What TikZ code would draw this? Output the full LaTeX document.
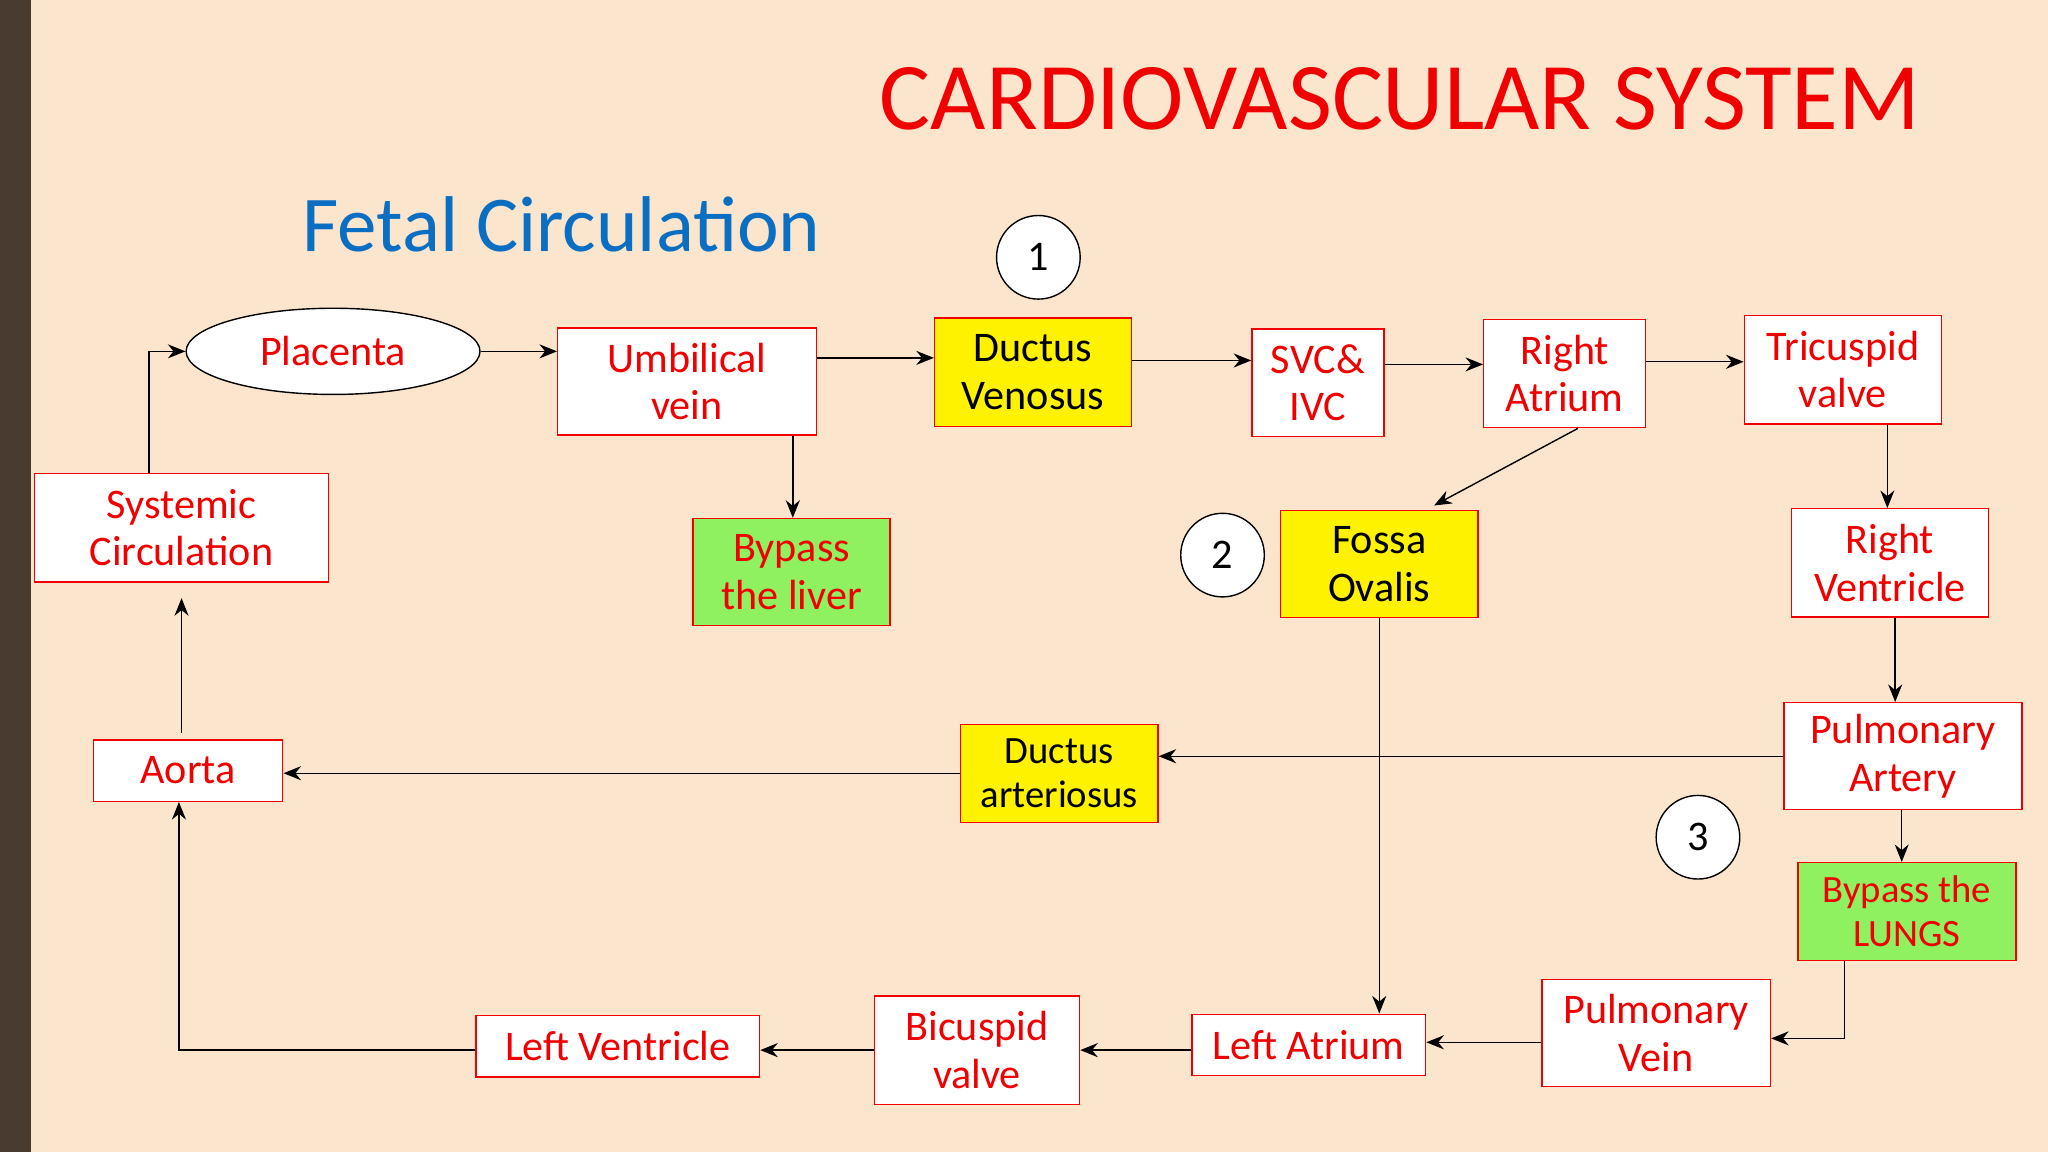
\documentclass[tikz,border=0pt]{standalone}
\usepackage{fontspec}
\setmainfont{Carlito}
\usepackage{xcolor}
\usetikzlibrary{positioning,shapes,arrows.meta}
\definecolor{bgpeach}{HTML}{FCE5CD}
\definecolor{strip}{HTML}{4A3B30}
\definecolor{boxred}{HTML}{F00000}
\definecolor{titleblue}{HTML}{0A6FC2}
\definecolor{lungs}{HTML}{8FF060}
\newcommand{\px}{0.01306cm}

\begin{document}
\begin{tikzpicture}[x=0.01306cm,y=-0.01306cm,
		box/.style = {rectangle, draw=boxred, fill=white, text=boxred, align=center, inner sep=0pt, font=\fontsize{12}{13.5}\selectfont},
		yel/.style = {box, fill=yellow, text=black},
		grn/.style = {box, fill=lungs},
		num/.style = {circle, draw, fill=white, minimum size=64*\px, inner sep=0pt, font=\fontsize{12}{13}\selectfont},
		flow/.style = {-{Stealth[length=5pt,width=4pt]}, draw=black}]
	\fill[bgpeach] (0,0) rectangle (1568,882);
	\fill[strip] (0,0) rectangle (24,882);
	\useasboundingbox (0,0) rectangle (1568,882);
	
	\node[text=boxred, font=\fontsize{27.2}{29}\selectfont] (title) at (1072,76) {CARDIOVASCULAR SYSTEM};
	\node[text=titleblue, font=\fontsize{22.5}{24}\selectfont] (sub) at (430,172) {Fetal Circulation};
	
	\node[ellipse, draw, fill=white, text=boxred, minimum width=225*\px, minimum height=66*\px, inner sep=0pt, font=\fontsize{12}{13}\selectfont] (plac) at (255,269) {Placenta};
	\node[box, minimum width=198*\px, minimum height=82*\px] (umb) at (526,292) {Umbilical\\vein};
	\node[yel, minimum width=151*\px, minimum height=83*\px] (dv) at (791,285) {Ductus\\Venosus};
	\node[box, minimum width=101*\px, minimum height=82*\px] (svc) at (1009,293) {SVC\&\\IVC};
	\node[box, minimum width=124*\px, minimum height=83*\px] (ra) at (1198,286) {Right\\Atrium};
	\node[box, minimum width=151*\px, minimum height=83*\px] (tri) at (1411,283) {Tricuspid\\valve};
	\node[box, minimum width=151*\px, minimum height=83*\px] (rv) at (1447,431) {Right\\Ventricle};
	\node[box, minimum width=182*\px, minimum height=82*\px] (pa) at (1457,579) {Pulmonary\\Artery};
	\node[grn, minimum width=167*\px, minimum height=75*\px, font=\fontsize{11}{12.5}\selectfont] (bpl) at (1460,698) {Bypass the\\LUNGS};
	\node[box, minimum width=175*\px, minimum height=82*\px] (pv) at (1268,791) {Pulmonary\\Vein};
	\node[box, minimum width=179*\px, minimum height=47*\px] (la) at (1002,800) {Left Atrium};
	\node[box, minimum width=157*\px, minimum height=83*\px] (bic) at (748,804) {Bicuspid\\valve};
	\node[box, minimum width=217*\px, minimum height=47*\px] (lv) at (473,801) {Left Ventricle};
	\node[box, minimum width=145*\px, minimum height=47*\px] (aorta) at (144,590) {Aorta};
	\node[box, minimum width=225*\px, minimum height=83*\px] (sys) at (139,404) {Systemic\\Circulation};
	\node[grn, minimum width=151*\px, minimum height=82*\px] (bliv) at (606,438) {Bypass\\the liver};
	\node[yel, minimum width=151*\px, minimum height=82*\px] (fo) at (1056,432) {Fossa\\Ovalis};
	\node[yel, minimum width=151*\px, minimum height=75*\px, font=\fontsize{11}{12.5}\selectfont] (da) at (811,592) {Ductus\\arteriosus};
	
	\node[num] (n1) at (795,197) {1};
	\node[num] (n2) at (936,425) {2};
	\node[num] (n3) at (1300,641) {3};
	
	% free ends
	\coordinate (sysin) at (139,458);
	\coordinate (foin) at (1098,387);
	
	\draw[flow] (plac.east) -- (umb.west |- plac.east);
	\draw[flow] (umb.east |- 0,274) -- (dv.west |- 0,274);
	\draw[flow] (dv.east |- 0,276) -- (svc.west |- 0,276);
	\draw[flow] (svc.east |- 0,279) -- (ra.west |- 0,279);
	\draw[flow] (ra.east |- 0,277) -- (tri.west |- 0,277);
	\draw[flow] (tri.south -| 1445,0) -- (rv.north -| 1445,0);
	\draw[flow] (rv.south -| 1451,0) -- (pa.north -| 1451,0);
	\draw[flow] (pa.west |- 0,579) -- (da.east |- 0,579);
	\draw[flow] (da.west |- 0,592) -- (aorta.east |- 0,592);
	\draw[flow] (pa.south -| 1456,0) -- (bpl.north -| 1456,0);
	\draw[flow] (bpl.south -| 1412,0) |- (pv.east |- 0,795);
	\draw[flow] (pv.west |- 0,798) -- (la.east |- 0,798);
	\draw[flow] (la.west |- 0,804) -- (bic.east |- 0,804);
	\draw[flow] (bic.west |- 0,804) -- (lv.east |- 0,804);
	\draw[flow] (lv.west |- 0,804) -| (aorta.south -| 137,0);
	\draw[flow] (aorta.north -| 139,0) ++(0,-5) -- (sysin);
	\draw[flow] (sys.north -| 114,0) |- (plac.west);
	\draw[flow] (umb.south -| 607,0) -- (bliv.north -| 607,0);
	\draw[flow] (ra.south -| 1208,0) -- (foin);
	\draw[flow] (fo.south) -- (la.north -| fo.south);
\end{tikzpicture}
\end{document}
